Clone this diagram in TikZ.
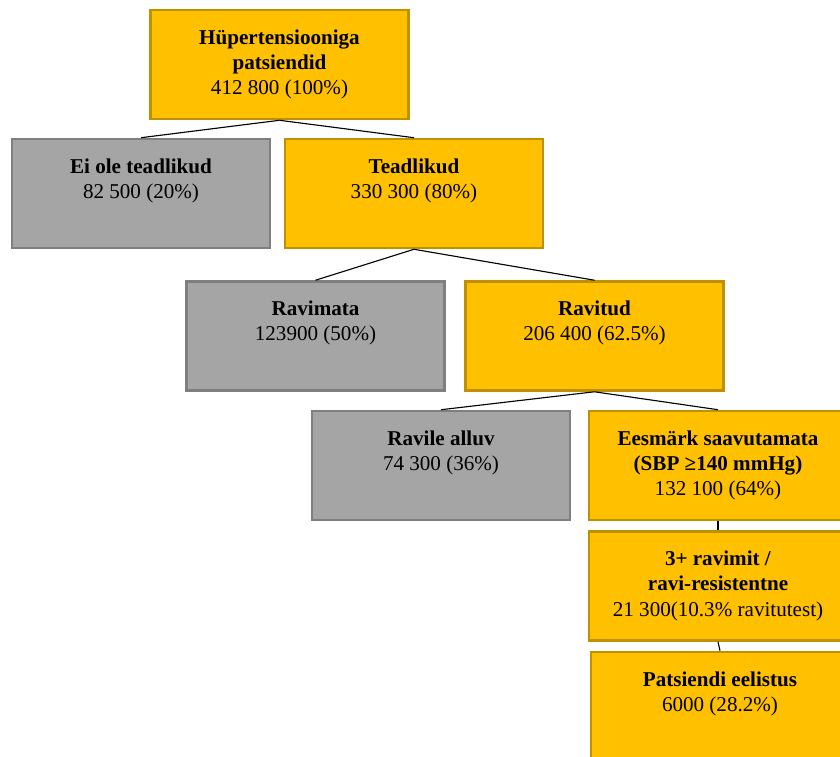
\documentclass[tikz,border=0pt]{standalone}
\usepackage{fontspec}
\setmainfont{Liberation Serif}
\usetikzlibrary{positioning}

\tikzset{
  kast/.style={line width=1.8pt, minimum width=6.45cm, minimum height=2.725cm, inner sep=0pt},
  kollane/.style={kast, fill=mygold, draw=mygoldline},
  hall/.style={kast, fill=mygray, draw=mygrayline},
  tekst/.style={align=center, inner sep=0pt, text=black, font=\fontsize{15}{17.8}\selectfont},
  joon/.style={draw=black, line width=0.8pt}
}

\begin{document}
\begin{tikzpicture}[x=0.025cm, y=-0.025cm]
        % Värvid (Office teema)
        \definecolor{mygold}{RGB}{255, 192, 0}
        \definecolor{mygoldline}{RGB}{191, 144, 0}
        \definecolor{mygray}{RGB}{165, 165, 165}
        \definecolor{mygrayline}{RGB}{127, 127, 127}

        % Pildi piirid (kastid jäävad osaliselt välja)
        \useasboundingbox (0,0) rectangle (840,756);
        \clip (0,0) rectangle (840,756);

        % 1. Kastid
        \node[kollane] (pt) at (279.5, 64.5) {};
        \node[hall] (eiole) at (141, 193.5) {};
        \node[kollane] (tead) at (414, 193.5) {};
        \node[hall] (ravimata) at (315.5, 336) {};
        \node[kollane] (ravitud) at (594.5, 336) {};
        \node[hall] (alluv) at (441, 465.5) {};
        \node[kollane] (eesmark) at (718, 465.5) {};
        \node[kollane] (resist) at (718, 586) {};
        \node[kollane] (eelistus) at (720, 706.5) {};

        % 2. Tekstid kastide ülaosas
        \node[tekst, below=0.52cm of pt.north] (pt-t)
            {\textbf{Hüpertensiooniga}\\\textbf{patsiendid}\\412 800 (100\%)};
        \node[tekst, below=0.52cm of eiole.north] (eiole-t)
            {\textbf{Ei ole teadlikud}\\82 500 (20\%)};
        \node[tekst, below=0.52cm of tead.north] (tead-t)
            {\textbf{Teadlikud}\\330 300 (80\%)};
        \node[tekst, below=0.52cm of ravimata.north] (ravimata-t)
            {\textbf{Ravimata}\\123900 (50\%)};
        \node[tekst, below=0.52cm of ravitud.north] (ravitud-t)
            {\textbf{Ravitud}\\206 400 (62.5\%)};
        \node[tekst, below=0.52cm of alluv.north] (alluv-t)
            {\textbf{Ravile alluv}\\74 300 (36\%)};
        \node[tekst, below=0.52cm of eesmark.north] (eesmark-t)
            {\textbf{Eesmärk saavutamata}\\\textbf{(SBP ≥140 mmHg)}\\132 100 (64\%)};
        \node[tekst, below=0.52cm of resist.north] (resist-t)
            {\textbf{3+ ravimit /}\\\textbf{ravi-resistentne}\\21 300(10.3\% ravitutest)};
        \node[tekst, below=0.52cm of eelistus.north] (eelistus-t)
            {\textbf{Patsiendi eelistus}\\6000 (28.2\%)};

        % 3. Ühendusjooned
        \draw[joon] (pt.south) -- (eiole.north);
        \draw[joon] (pt.south) -- (tead.north);
        \draw[joon] (tead.south) -- (ravimata.north);
        \draw[joon] (tead.south) -- (ravitud.north);
        \draw[joon] (ravitud.south) -- (alluv.north);
        \draw[joon] (ravitud.south) -- (eesmark.north);
        \draw[joon] (eesmark.south) -- (resist.north);
        \draw[joon] (resist.south) -- (eelistus.north);

    \end{tikzpicture}
\end{document}
